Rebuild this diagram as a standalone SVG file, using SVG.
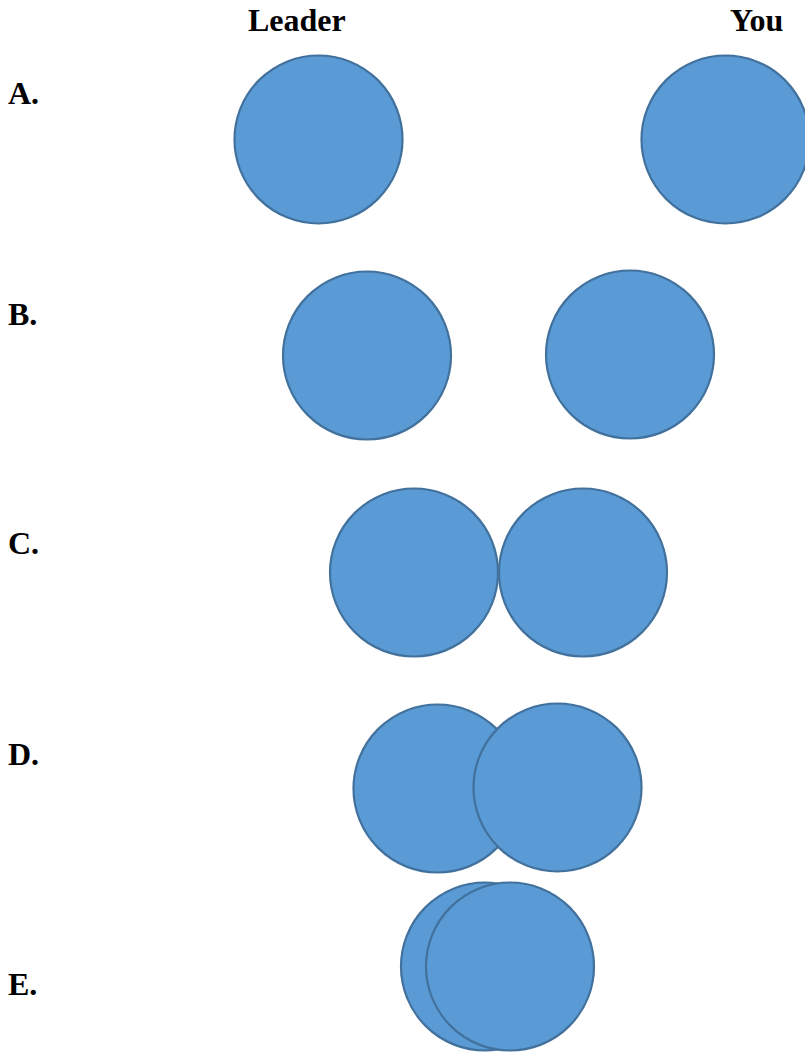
<svg xmlns="http://www.w3.org/2000/svg" width="805" height="1053" viewBox="0 0 805 1053">
<style>
.c{fill:#5B9BD5;stroke:#41719C;stroke-width:2.2}
.t{font-family:"Liberation Serif","Times New Roman",serif;font-weight:bold;font-size:32px;fill:#000}
</style>
<rect width="805" height="1053" fill="#fff"/>
<g id="headers">
<text class="t" x="248" y="30.5">Leader</text>
<text class="t" x="730" y="30.5">You</text>
</g>
<g id="labels">
<text class="t" x="8" y="104">A.</text>
<text class="t" x="8" y="325">B.</text>
<text class="t" x="8" y="554">C.</text>
<text class="t" x="8" y="765">D.</text>
<text class="t" x="8" y="995">E.</text>
</g>
<g id="rowA">
<circle id="A-leader" class="c" cx="318.5" cy="139.5" r="84"/>
<circle id="A-you" class="c" cx="725.5" cy="139.5" r="84"/>
</g>
<g id="rowB">
<circle id="B-leader" class="c" cx="367" cy="355.5" r="84"/>
<circle id="B-you" class="c" cx="630" cy="354.5" r="84"/>
</g>
<g id="rowC">
<circle id="C-leader" class="c" cx="414" cy="572.5" r="84"/>
<circle id="C-you" class="c" cx="583" cy="572.5" r="84"/>
</g>
<g id="rowD">
<circle id="D-leader" class="c" cx="437.5" cy="788.5" r="84"/>
<circle id="D-you" class="c" cx="557.5" cy="787.5" r="84"/>
</g>
<g id="rowE">
<circle id="E-leader" class="c" cx="485" cy="966.5" r="84"/>
<circle id="E-you" class="c" cx="510" cy="966.5" r="84"/>
</g>
<g id="connectors"/>
</svg>
